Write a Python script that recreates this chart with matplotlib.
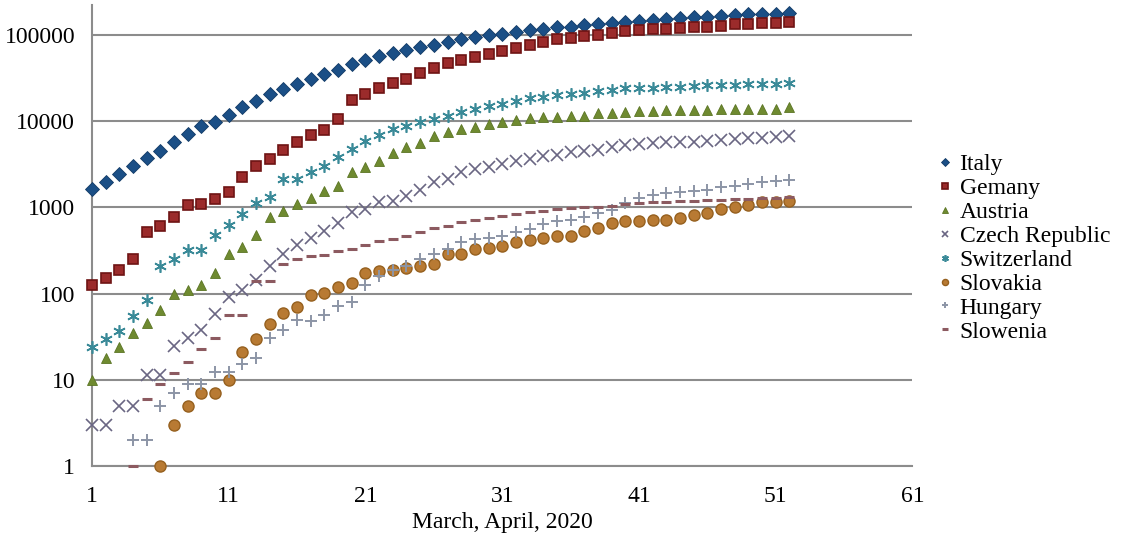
import numpy as np
import matplotlib
matplotlib.use("Agg")
import matplotlib.pyplot as plt

# ── Data (cumulative cases, day 1 = 1 March 2020) ───────────────────────────
italy = [1640, 1950, 2440, 2990, 3740, 4460, 5660, 7080, 8770, 9750,
         11860, 14420, 17220, 20560, 23710, 27290, 30600, 34900, 39300, 45800,
         51400, 56500, 62300, 66000, 72000, 76800, 83500, 89000, 95000, 99300,
         103500, 108600, 113000, 116000, 122000, 125000, 131000, 133500, 136500, 141300,
         145000, 148000, 154500, 158700, 161500, 163000, 166000, 169000, 173500, 175000,
         176500, 181000]
germany = [127, 151, 189, 253, 516, 615, 767, 1075, 1095, 1240,
           1520, 2270, 2990, 3670, 4670, 5760, 6910, 7890, 10700, 17800,
           20500, 24000, 28000, 30700, 36000, 41100, 47800, 50900, 55600, 59800,
           65300, 71300, 76600, 83700, 89100, 93200, 96600, 100000, 104700, 111000,
           114000, 116000, 118000, 121500, 122800, 123800, 127000, 133000, 135000, 136500,
           137700, 141300]
austria = [10, 18, 24, 35, 46, 64, 100, 109, 127, 175,
           290, 352, 484, 768, 918, 1097, 1300, 1564, 1786, 2547,
           2911, 3480, 4230, 5050, 5530, 6780, 7400, 8090, 8450, 9250,
           9660, 10280, 10860, 11040, 11230, 11550, 11600, 12280, 12500, 12600,
           12950, 13200, 13440, 13440, 13550, 13550, 13650, 13700, 13750, 13850,
           13900, 14400]
czech = [3, 3, 5, 5, 11.5, 11.5, 25, 31, 38, 58,
         91, 109, 145, 207, 290, 371, 444, 539, 655, 879,
         960, 1148, 1199, 1370, 1590, 1990, 2137, 2547, 2787, 2911,
         3185, 3420, 3640, 3980, 4083, 4340, 4540, 4670, 4960, 5330,
         5430, 5520, 5670, 5730, 5780, 5830, 6040, 6210, 6310, 6370,
         6590, 6780]
switzerland = [24, 30, 37, 55, 85, 207, 254, 322, 322, 484,
               627, 841, 1114, 1308, 2137, 2137, 2597, 2990, 3800, 4750,
               5930, 6960, 8090, 8690, 9660, 10570, 11550, 12620, 13800, 15080,
               15780, 17220, 18500, 19300, 20000, 20600, 21100, 22100, 22900, 24200,
               24500, 24500, 25000, 25000, 25700, 25900, 26200, 26500, 26600, 26900,
               27100, 27600]
slovakia = [np.nan, np.nan, np.nan, np.nan, np.nan, 1, 3, 5, 7, 7,
            10, 21, 30, 44, 60, 70, 97, 101, 121, 134,
            175, 182, 186, 199, 212, 222, 290, 290, 331, 336,
            355, 394, 420, 439, 463, 471, 529, 578, 661, 690,
            703, 716, 720, 748, 818, 855, 960, 1021, 1069, 1148,
            1160, 1199]
hungary = [np.nan, np.nan, np.nan, 2, 2, 5, 7, 9, 9, 12.4,
           12.4, 15.4, 18, 31, 38, 49, 48, 57, 71, 81,
           127, 162, 186, 212, 254, 290, 331, 394, 431, 440,
           471, 515, 564, 644, 703, 722, 783, 855, 935, 1128,
           1290, 1406, 1458, 1497, 1565, 1592, 1709, 1786, 1870, 1954,
           2010, 2080]
slovenia = [np.nan, np.nan, np.nan, 1, 6, 9, 12, 16, 23, 31,
            57, 57, 141, 141, 219, 253, 270, 277, 316, 327,
            368, 405, 431, 463, 515, 573, 615, 673, 716, 748,
            804, 840, 879, 918, 960, 977, 1002, 1021, 1049, 1091,
            1124, 1150, 1167, 1180, 1199, 1212, 1222, 1254, 1260, 1277,
            1290, 1304]

days = np.arange(1, len(italy) + 1)

series = [
    ("Italy", italy, dict(marker="D", ms=6.8, color="#1B4F86", mec="#123a66", mew=0.6)),
    ("Gemany", germany, dict(marker="s", ms=7.5, color="#9B2B2B", mec="#6e1414", mew=1.2)),
    ("Austria", austria, dict(marker="^", ms=7.5, color="#6F8A30", mec="#5b7524", mew=0.6)),
    ("Czech Republic", czech, dict(marker="x", ms=8, color="#6A6683", mew=1.2)),
    ("Switzerland", switzerland, dict(marker=(6, 2, 0), ms=9, color="#3A8A98", mew=1.2)),
    ("Slovakia", slovakia, dict(marker="o", ms=8, color="#B87A33", mec="#96601f", mew=1.0)),
    ("Hungary", hungary, dict(marker="+", ms=9, color="#8C95A6", mew=1.4)),
    ("Slowenia", slovenia, dict(marker="_", ms=7, color="#8C5A60", mew=2.2)),
]

plt.rcParams["font.family"] = ["Liberation Serif", "DejaVu Serif"]

fig = plt.figure(figsize=(11.21, 5.34), dpi=100)
ax = fig.add_axes([0.082, 0.127, 0.732, 0.863])

for name, vals, st in series:
    ax.plot(days, vals, linestyle="none", label=name, clip_on=False, zorder=3, **st)

ax.set_yscale("log")
ax.set_ylim(1, 2.2e5)
ax.set_xlim(1, 61)
ax.set_yticks([1, 10, 100, 1000, 10000, 100000])
ax.set_yticklabels(["1", "10", "100", "1000", "10000", "100000"])
ax.minorticks_off()
ax.set_xticks([1, 11, 21, 31, 41, 51, 61])
ax.tick_params(axis="both", length=0, labelsize=17)
ax.tick_params(axis="y", pad=12)
ax.tick_params(axis="x", pad=14)
ax.yaxis.grid(True, color="#8c8c8c", linewidth=1.5, zorder=0)
ax.set_axisbelow(True)
for sp in ["top", "right"]:
    ax.spines[sp].set_visible(False)
for sp in ["left", "bottom"]:
    ax.spines[sp].set_color("#8c8c8c")
    ax.spines[sp].set_linewidth(1.5)

ax.set_xlabel("March, April, 2020", fontsize=17, labelpad=4)

leg = ax.legend(loc="center left", bbox_to_anchor=(1.02, 0.473), frameon=False,
                fontsize=17, markerscale=0.55, handlelength=0.6,
                handletextpad=0.3, labelspacing=0.1, borderaxespad=0)

fig.savefig("out.png", dpi=100)
